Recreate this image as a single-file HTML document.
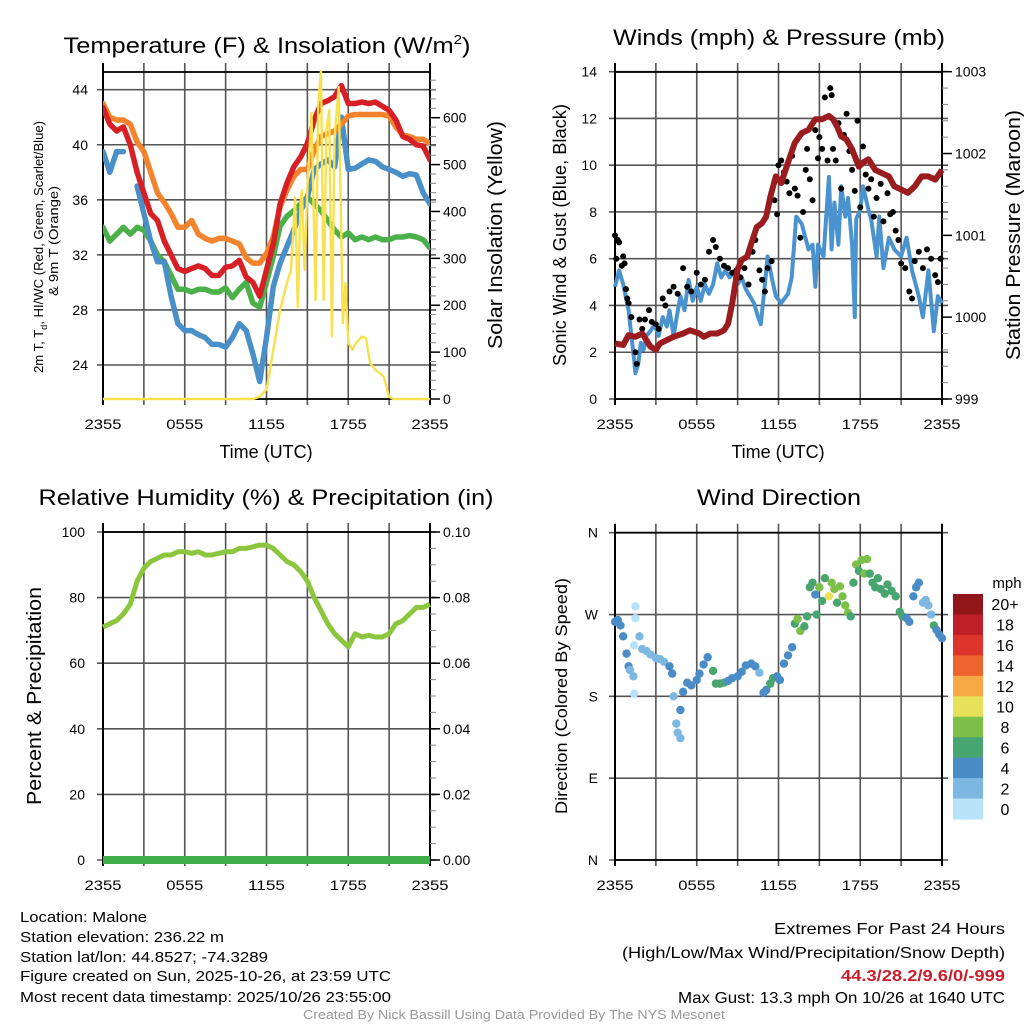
<!DOCTYPE html>
<html><head><meta charset="utf-8"><style>
html,body{margin:0;padding:0;background:#fff;}
svg{display:block;font-family:"Liberation Sans",Arial,sans-serif;}
</style></head><body>
<svg id="fig" width="1024" height="1024" viewBox="0 0 1024 1024" xmlns="http://www.w3.org/2000/svg"></svg>
<script>
// ---------- DATA ----------
const hours = [0,0.5,1,1.5,2,2.5,3,3.5,4,4.5,5,5.5,6,6.5,7,7.5,8,8.5,9,9.5,10,10.5,11,11.5,12,12.5,13,13.5,14,14.5,15,15.5,16,16.5,17,17.5,18,18.5,19,19.5,20,20.5,21,21.5,22,22.5,23,23.5,24];
const tempRed = [42.7,41.5,41,41.3,40,38,36.5,35,34.5,33,32,31,30.8,31,31.2,31,30.5,30.5,31.1,31.2,31.6,30.4,30,29,30.9,32.8,35.7,37.2,38.4,39.1,40.1,41.8,43,43.2,43.5,44.3,43,43,43.1,43,43.1,42.8,42.5,41.8,40.6,40.4,40,39.9,38.9];
const temp9m = [43,42,41.8,41.8,41.5,40.2,39.5,38,36.5,35.8,35,34,34,34.5,33.5,33.2,33,33.2,33.2,33,32.8,31.8,31.4,31.4,32.1,33.3,35.5,36.7,37.7,38.2,38.2,39.6,40.6,40.8,41,41.5,42.1,42.2,42.2,42.2,42.2,42.2,42.1,41.3,40.7,40.6,40.4,40.4,40.1];
const dewGreen = [34,33,33.5,34,33.5,34,33.8,33,32,31.5,30.5,29.5,29.5,29.3,29.5,29.5,29.3,29.3,29.6,28.9,29.5,30,28.5,28.2,30,31.9,34.1,34.8,35.2,35.7,36.2,35.7,35.2,34.5,33.8,33.3,33.6,33.1,33.3,33.1,33.3,33.1,33.1,33.3,33.3,33.4,33.3,33.1,32.5];
const chillBlue = [39.5,38,39.5,39.5,null,37,35,33,31.5,31.5,29,27,26.5,26.5,26.2,26,25.5,25.5,25.3,26,27,26.5,24.8,22.8,26,29.7,31.4,32.6,33.8,35.2,36.2,38.2,38.6,38.9,38.4,42,38.2,38.3,38.6,38.9,38.8,38.4,38.2,38,37.7,37.9,37.8,36.5,35.7];
const solarHours = [0,11,11.5,12,12.5,13,13.5,13.8,14.1,14.3,14.5,14.6,14.8,15.0,15.3,15.6,15.8,16.0,16.2,16.4,16.6,16.8,17.0,17.3,17.6,17.8,18.0,18.3,18.6,19.0,19.3,19.6,20,20.3,20.6,21,21.3,24];
const solarVals = [0,0,5,20,104,190,247,275,430,196,418,445,275,452,610,211,630,700,211,574,616,133,560,665,162,247,120,105,120,133,130,77,62,55,48,5,0,0];
const windHours = [0,0.3,0.6,1,1.2,1.4,1.5,1.7,1.9,2.1,2.3,2.6,2.9,3.2,3.5,3.8,4.0,4.3,4.5,4.8,5.1,5.4,5.7,6.0,6.3,6.6,6.9,7.2,7.5,7.8,8.1,8.4,8.7,9.0,9.3,9.6,9.9,10.2,10.5,10.7,11.0,11.2,11.5,11.8,12.2,12.7,12.97,13.3,13.7,14.2,14.5,14.7,14.9,15.3,15.7,15.9,16.1,16.4,16.6,16.9,17.1,17.4,17.6,17.7,18.0,18.2,18.6,18.8,19.2,19.4,19.7,20.1,20.5,21.0,21.4,21.8,22.3,22.6,23.0,23.4,23.7,24];
const windBlue = [4.8,5.5,4.9,3.8,2.7,1.7,1.1,1.5,2.4,2.1,2.7,2.9,3.2,2.7,3.5,3.1,3.8,2.7,3.4,4.4,3.8,5.1,4.2,4.8,4.2,4.9,4.5,4.9,5.8,5.2,5.5,5.2,5.4,4.9,5.2,4.7,4.4,4.1,3.5,3.2,4.9,6.1,5.2,4.4,4.1,4.5,5.2,7.8,7.5,6.4,6.6,4.8,6.6,6.1,9.5,6.4,8.4,6.6,9.1,7.8,8.6,6.6,3.5,7.7,8.1,9.1,8.1,7.7,6.1,7.8,5.6,6.9,6.4,6.1,6.9,5.5,4.4,3.5,5.5,2.9,4.4,4.1];
const presHours = [0,0.6,1,1.5,2,2.3,2.6,3,3.3,3.8,4.3,5,5.5,6.2,6.5,7,7.5,8,8.3,8.6,9,9.3,9.7,10,10.4,10.8,11.1,11.4,11.8,12.2,12.7,13.2,13.7,14.2,14.7,15.2,15.7,16.0,16.3,16.6,17.0,17.4,17.9,18.2,18.6,19.1,19.6,20.1,20.5,21.0,21.5,22.0,22.5,23.0,23.5,24];
const pressure = [999.68,999.66,999.78,999.76,999.8,999.72,999.64,999.6,999.68,999.72,999.76,999.8,999.84,999.8,999.76,999.8,999.8,999.84,999.92,1000.17,1000.58,1000.7,1000.74,1000.9,1001.1,1001.15,1001.23,1001.47,1001.72,1001.64,1001.89,1002.13,1002.25,1002.29,1002.42,1002.42,1002.46,1002.42,1002.33,1002.21,1002.17,1002.05,1001.84,1001.89,1001.93,1001.8,1001.76,1001.72,1001.6,1001.56,1001.52,1001.6,1001.72,1001.72,1001.68,1001.8];
const gustHours = [0,0.1,0.2,0.3,0.5,0.6,0.7,0.8,0.9,1.0,1.2,1.5,1.6,1.8,2.0,2.2,2.5,2.7,3.0,3.2,3.5,3.7,4.0,4.3,4.6,5.0,5.3,5.6,6.0,6.3,6.6,6.9,7.2,7.4,7.7,8.0,8.3,8.6,8.9,9.2,9.5,9.8,10.1,10.3,10.6,10.8,11.0,11.2,11.5,11.7,11.9,12.0,12.2,12.4,12.6,12.8,13.0,13.2,13.4,13.6,13.8,14.0,14.1,14.3,14.5,14.7,14.9,15.0,15.2,15.4,15.6,15.8,15.9,16.0,16.2,16.4,16.6,16.8,17.0,17.2,17.4,17.6,17.8,18.0,18.2,18.4,18.6,18.8,19.0,19.2,19.5,19.7,20.0,20.2,20.4,20.6,20.8,21.0,21.3,21.6,21.8,22.0,22.3,22.6,22.9,23.2,23.5,23.7,23.9];
const gustVals = [7,6,6.8,6.7,5.7,6.1,5.8,4.7,4.3,4.1,3.5,2.0,1.5,3.4,3.0,3.4,3.8,3.3,3.2,3.0,4.3,4.0,4.6,4.8,4.5,5.6,4.8,4.6,5.4,4.9,5.1,6.3,6.8,6.5,6.0,5.7,5.6,5.4,5.5,5.2,5.6,4.9,6.3,6.8,5.5,5.1,4.6,5.6,5.9,8.5,7.9,10.0,10.2,9.7,9.3,8.8,10.4,9.0,8.7,6.9,8.0,9.8,10.7,9.4,8.5,11.5,10.3,11.2,10.7,12.9,10.2,13.3,13.0,10.7,10.2,11.8,9.0,11.3,12.2,10.6,9.8,8.9,11.9,8.2,10.8,9.6,9.0,9.4,7.8,8.6,9.2,7.6,8.8,7.9,8.0,7.2,6.8,5.8,5.6,4.6,4.3,5.9,6.3,5.6,6.4,6.0,5.3,5.0,6.0];
const rhVals = [71,72,73,75,78,85,89,91,92,93,93,94,94,93.5,94,93,93,93.5,94,94,95,95,95.5,96,96,95,93,91,90,88,85,80,76,72,69,67,65,69,68,68.5,68,68,69,72,73,75,77,77,78];
const precipVals = [0,0,0,0,0,0,0,0,0,0,0,0,0,0,0,0,0,0,0,0,0,0,0,0,0,0,0,0,0,0,0,0,0,0,0,0,0,0,0,0,0,0,0,0,0,0,0,0,0];
const dirHours = [0,0.2,0.4,0.6,0.85,1.0,1.1,1.35,1.5,1.5,1.4,1.4,1.8,2.0,2.3,2.6,3.0,3.3,3.6,4.0,4.2,4.3,4.5,4.6,4.8,4.8,5.0,5.3,5.6,6.0,6.2,6.5,6.8,7.2,7.4,7.7,8.0,8.3,8.6,9.0,9.3,9.6,10.0,10.3,10.6,10.9,11.1,11.4,11.6,11.9,12.1,12.4,12.7,13.0,13.2,13.4,13.6,13.9,14.1,14.3,14.5,14.7,14.8,15.0,15.2,15.4,15.7,15.9,16.1,16.3,16.5,16.7,16.9,17.1,17.3,17.5,17.7,17.9,18.1,18.3,18.5,18.7,18.9,19.1,19.3,19.5,19.8,20.0,20.3,20.6,20.9,21.1,21.4,21.6,21.9,22.1,22.3,22.6,22.8,23.0,23.2,23.4,23.6,23.8,24.0];
const dirDeg = [262,264,258,246,227,213,209,202,279,266,236,183,246,232,230,226,222,221,218,213,205,180,150,140,134,165,185,195,192,198,205,215,223,208,194,194,195,197,200,202,207,214,216,213,206,184,187,194,200,202,198,216,225,234,260,265,252,257,268,300,305,292,270,300,285,310,290,305,298,283,301,290,280,272,268,305,325,318,330,315,331,315,305,300,310,298,293,303,296,290,273,268,266,262,290,300,305,283,286,280,270,258,253,248,244];
const dirSpeed = [4,4,4,4,4,4,2,2,0,0,1,0,2,2,2,2,2,2,2,4,4,2,2,2,2,4,4,4,4,4,4,4,4,6,6,6,6,4,4,4,4,4,4,4,2,4,4,6,6,4,4,4,4,4,6,8,8,6,6,6,6,4,6,8,6,6,10,8,8,6,8,8,8,8,6,6,8,6,8,8,8,6,6,6,6,6,6,6,6,6,6,6,4,4,4,4,4,2,2,2,2,6,4,4,4];
const speedBins = [0,2,4,6,8,10,12,14,16,18,20];
const speedColors = ["#b6e3f8","#7db8e2","#4a8dc6","#48a56f","#7cc04a","#e6e158","#f6a945","#ee6430","#dd3529","#bf1f29","#911619"];
const binLabels = ["0","2","4","6","8","10","12","14","16","18","20+"];
const xTickLabels = ["2355","0555","1155","1755","2355"];
const tempTicks = [24,28,32,36,40,44];
const solarTicks = [0,100,200,300,400,500,600];
const windTicks = [0,2,4,6,8,10,12,14];
const presTicks = [999,1000,1001,1002,1003];
const rhTicks = [0,20,40,60,80,100];
const prTicks = ["0.00","0.02","0.04","0.06","0.08","0.10"];
const dirTicks = [0,90,180,270,360];
const dirLabels = ["N","E","S","W","N"];

// ---------- HELPERS ----------
const svg = document.getElementById('fig');
const NS = 'http://www.w3.org/2000/svg';
function el(tag, attrs, parent){ const e=document.createElementNS(NS,tag); for(const k in attrs) e.setAttribute(k,attrs[k]); (parent||svg).appendChild(e); return e; }
function txt(s, x, y, size, anchor, parent, extra){ const t=el('text',Object.assign({x:x,y:y,'font-size':size,'text-anchor':anchor||'start',fill:'#000'},extra||{}),parent); t.textContent=s; return t; }
function lin(d0,d1,r0,r1){ return v => r0+(v-d0)/(d1-d0)*(r1-r0); }
function pathFrom(xs, ys, fx, fy){ let d='',pen=false; for(let i=0;i<xs.length;i++){ if(ys[i]===null){pen=false;continue;} d+=(pen?'L':'M')+fx(xs[i]).toFixed(1)+','+fy(ys[i]).toFixed(1); pen=true; } return d; }

function panelFrame(g, L, R, T, B, leftTicks, fyL, leftLbl, leftX){
  for(let i=0;i<=8;i++){
    const x=L+(R-L)*i/8;
    const gl=el('line',{x1:x,y1:T-9,x2:x,y2:B+6,stroke:i==0||i==8?'#000':'#555','stroke-width':i==0||i==8?2:1.6},g);
    
    
  }
  leftTicks.forEach((v,i)=>{
    const y=fyL(v);
    const hl=el('line',{x1:L-6,y1:y,x2:R+6,y2:y,stroke:'#555','stroke-width':1.6},g);
    
    
    const t=txt(leftLbl[i],leftX,y+5,14,'end',g);
    
    
  });
  el('rect',{x:L,y:T,width:R-L,height:B-T,fill:'none',stroke:'#000','stroke-width':1.8},g);
  xTickLabels.forEach((s,i)=>{
    const t=txt(s,L+(R-L)*i/4,B+30,14,'middle',g,{textLength:37,lengthAdjust:'spacingAndGlyphs'});
    
    
  });
}
function rightAxis(g, R, ticks, labels, fy, minorStep, d0, d1){
  for(let v=d0; v<=d1+1e-9; v+=minorStep){ el('line',{x1:R,y1:fy(v),x2:R+6,y2:fy(v),stroke:'#888','stroke-width':1},g); }
  ticks.forEach((v,i)=>{
    el('line',{x1:R,y1:fy(v),x2:R+10,y2:fy(v),stroke:'#000','stroke-width':1.5},g);
    const t=txt(labels[i],R+13,fy(v)+5,14,'start',g);
    
    
  });
}
function rotText(s,x,y,size,g,len){ const t=txt(s,0,0,size,'middle',g,Object.assign({transform:`translate(${x},${y}) rotate(-90)`},len?{textLength:len,lengthAdjust:'spacingAndGlyphs'}:{})); return t; }

// ---------- PANEL 1: Temperature ----------
{
  const g=el('g',{});  
  const L=103,R=430,T=72,B=399;
  const fx=lin(0,24,L,R), fy=lin(24,44,365,89.7), fs=lin(0,600,399,117.7);
  panelFrame(g,L,R,T,B,tempTicks,fy,tempTicks.map(String),88);
  rightAxis(g,R,solarTicks,solarTicks.map(String),fs,20,0,680);
  const clip=el('clipPath',{id:'c1'},g); el('rect',{x:L,y:T,width:R-L,height:B-T},clip);
  const series=[[dewGreen,'#4bb04a','dewpoint-line'],[chillBlue,'#4a90c8','wind-chill-line'],[temp9m,'#f4832e','temp-9m-line'],[tempRed,'#d62026','temp-2m-line']];
  series.forEach(s=>{ const p=el('path',{d:pathFrom(hours,s[0],fx,fy),fill:'none',stroke:s[1],'stroke-width':5.5,'stroke-linejoin':'round','stroke-linecap':'round','clip-path':'url(#c1)'},g);
      });
  const sp=el('path',{d:pathFrom(solarHours,solarVals,fx,fs),fill:'none',stroke:'#f8e04e','stroke-width':2.4,'stroke-linejoin':'round'},g);
   
  const tt=el('text',{x:267,y:53,'font-size':22,'text-anchor':'middle',textLength:407,lengthAdjust:'spacingAndGlyphs'},g);
  tt.innerHTML='Temperature (F) &amp; Insolation (W/m<tspan dy="-9" font-size="13">2</tspan><tspan dy="9">)</tspan>';
   
  const xl=txt('Time (UTC)',266,458,18,'middle',g);  
  const y1=el('text',{'font-size':13,'text-anchor':'middle',transform:'translate(43,247) rotate(-90)',textLength:252,lengthAdjust:'spacingAndGlyphs'},g);
  y1.innerHTML='2m T, T<tspan dy="4" font-size="9">d</tspan><tspan dy="-4">, HI/WC (Red, Green, Scarlet/Blue)</tspan>';
   
  const y2=rotText('& 9m T (Orange)',58,241,13,g,110);  
  const yr=rotText('Solar Insolation (Yellow)',502,235,20,g,228);  
}

// ---------- PANEL 2: Winds ----------
{
  const g=el('g',{});  
  const L=615,R=942,T=72,B=399;
  const fx=lin(0,24,L,R), fy=lin(0,14,399,71.7), fp=lin(999,1003,399,71.7);
  panelFrame(g,L,R,T,B,windTicks,fy,windTicks.map(String),597);
  rightAxis(g,R,presTicks,presTicks.map(String),fp,0.2,999,1003);
  const bp=el('path',{d:pathFrom(windHours,windBlue,fx,fy),fill:'none',stroke:'#4a93cf','stroke-width':4,'stroke-linejoin':'round'},g);
   
  gustHours.forEach((h,i)=>{ const c=el('circle',{cx:fx(h),cy:fy(gustVals[i]),r:3,fill:'#000'},g);
      });
  const pp=el('path',{d:pathFrom(presHours,pressure,fx,fp),fill:'none',stroke:'#9b1c1f','stroke-width':6,'stroke-linejoin':'round'},g);
   
  const tt=txt('Winds (mph) & Pressure (mb)',779,45,22,'middle',g,{textLength:332,lengthAdjust:'spacingAndGlyphs'});  
  const xl=txt('Time (UTC)',778,458,18,'middle',g);  
  const yl=rotText('Sonic Wind & Gust (Blue, Black)',566,235,18,g,262);  
  const yr=rotText('Station Pressure (Maroon)',1020,235,20,g,250);  
}

// ---------- PANEL 3: RH ----------
{
  const g=el('g',{});  
  const L=103,R=430,T=532,B=860;
  const fx=lin(0,24,L,R), fy=lin(0,100,860,532), fr=lin(0,0.1,860,532);
  panelFrame(g,L,R,T,B,rhTicks,fy,rhTicks.map(String),85);
  rightAxis(g,R,[0,0.02,0.04,0.06,0.08,0.1],prTicks,fr,0.005,0,0.1);
  const rp=el('path',{d:pathFrom(hours,rhVals,fx,fy),fill:'none',stroke:'#8cc63f','stroke-width':5,'stroke-linejoin':'round'},g);
   
  const pr=el('path',{d:pathFrom(hours,precipVals,fx,fr),fill:'none',stroke:'#3fae49','stroke-width':8},g);
   
  const tt=txt('Relative Humidity (%) & Precipitation (in)',266,505,22,'middle',g,{textLength:455,lengthAdjust:'spacingAndGlyphs'});  
  const yl=rotText('Percent & Precipitation',41,696,20,g,218);  
}

// ---------- PANEL 4: Wind direction ----------
{
  const g=el('g',{});  
  const L=615,R=942,T=532.7,B=860;
  const fx=lin(0,24,L,R), fy=lin(0,360,860,532.7);
  panelFrame(g,L,R,T,B,dirTicks,fy,dirLabels,598);
  function colorFor(s){ let k=0; for(let i=0;i<speedBins.length;i++){ if(s>=speedBins[i]) k=i; } return speedColors[k]; }
  dirHours.forEach((h,i)=>{ const c=el('circle',{cx:fx(h),cy:fy(dirDeg[i]),r:4.2,fill:colorFor(dirSpeed[i])},g);
      });
  const tt=txt('Wind Direction',779,505,22,'middle',g,{textLength:164,lengthAdjust:'spacingAndGlyphs'});  
  const yl=rotText('Direction (Colored By Speed)',567,696,17,g,236);  
  const cb=el('g',{},g);  
  const cbTop=594, cbH=225/11;
  for(let i=0;i<speedColors.length;i++){
    const idx=speedColors.length-1-i;
    const r=el('rect',{x:953,y:cbTop+i*cbH,width:30,height:cbH+0.5,fill:speedColors[idx]},cb);
     
    const t=txt(binLabels[idx],1005,cbTop+i*cbH+cbH/2+6,16,'middle',cb);
     
  }
  const mt=txt('mph',1007,588,15,'middle',cb);  
}

// ---------- FOOTER ----------
{
  const g=el('g',{});  
  const left=[['Location: Malone',127,922],['Station elevation: 236.22 m',204,942],['Station lat/lon: 44.8527; -74.3289',248,962],['Figure created on Sun, 2025-10-26, at 23:59 UTC',371,981],['Most recent data timestamp: 2025/10/26 23:55:00',371,1002]];
  left.forEach(l=>{ const t=txt(l[0],20,l[2],15,'start',g,{textLength:l[1],lengthAdjust:'spacingAndGlyphs'});   });
  const right=[['Extremes For Past 24 Hours',231,934,'#000','normal'],['(High/Low/Max Wind/Precipitation/Snow Depth)',383,958,'#000','normal'],['44.3/28.2/9.6/0/-999',164,981,'#c8202a','bold'],['Max Gust: 13.3 mph On 10/26 at 1640 UTC',327,1003,'#000','normal']];
  right.forEach(l=>{ const t=txt(l[0],1005,l[2],16,'end',g,{textLength:l[1],lengthAdjust:'spacingAndGlyphs',fill:l[3],'font-weight':l[4]});   });
  const c=txt('Created By Nick Bassill Using Data Provided By The NYS Mesonet',514,1019,13,'middle',g,{textLength:422,lengthAdjust:'spacingAndGlyphs',fill:'#999'});
   
}
</script>
</body></html>
